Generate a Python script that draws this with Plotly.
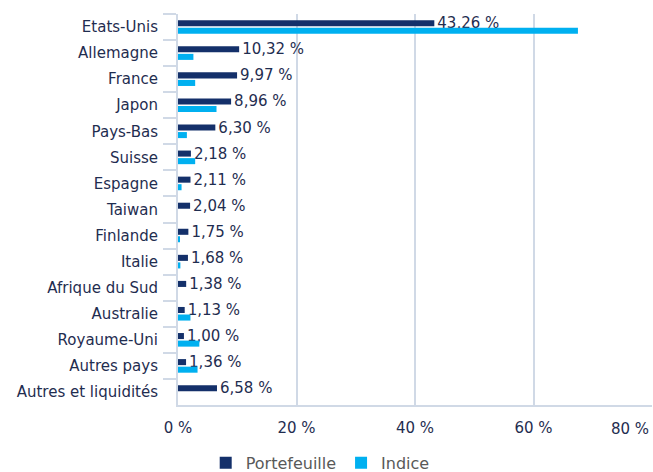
import plotly.graph_objects as go

categories = ["Etats-Unis", "Allemagne", "France", "Japon", "Pays-Bas", "Suisse",
              "Espagne", "Taiwan", "Finlande", "Italie", "Afrique du Sud", "Australie",
              "Royaume-Uni", "Autres pays", "Autres et liquidités"]
portefeuille = [43.26, 10.32, 9.97, 8.96, 6.30, 2.18, 2.11, 2.04, 1.75, 1.68, 1.38, 1.13, 1.00, 1.36, 6.58]
indice = [67.5, 2.6, 2.9, 6.5, 1.5, 2.9, 0.6, 0.0, 0.3, 0.4, 0.0, 2.1, 3.6, 3.3, 0.0]
x_ticks = [0, 20, 40, 60, 80]

NAVY = "#14306a"
CYAN = "#00b0f0"
TEXT = "#1f2d50"
GRID = "#d0d9e6"
FONT = "DejaVu Sans"

labels = [f"{v:.2f}".replace(".", ",") + " %" for v in portefeuille]
tick_text = [f"{t} %" for t in x_ticks]

fig = go.Figure()
fig.add_trace(go.Bar(
    y=categories, x=portefeuille, orientation="h", name="Portefeuille",
    marker=dict(color=NAVY, line=dict(width=0)),
    text=labels, textposition="outside", cliponaxis=False, constraintext="none",
    textfont=dict(family=FONT, size=15, color=TEXT),
))
fig.add_trace(go.Bar(
    y=categories, x=indice, orientation="h", name="Indice",
    marker=dict(color=CYAN, line=dict(width=0)),
))

# last tick label shifted inside the figure (as in the reference)
fig.add_annotation(
    x=x_ticks[-1], xref="x", xanchor="right", xshift=-1,
    y=0, yref="paper", yanchor="top", yshift=-13,
    text=tick_text[-1], showarrow=False,
    font=dict(family=FONT, size=15, color=TEXT),
)

fig.update_layout(
    width=653, height=472,
    margin=dict(l=178, r=1, t=14, b=67, autoexpand=False),
    paper_bgcolor="white", plot_bgcolor="white",
    barmode="group", bargap=0.42, bargroupgap=0.2,
    font=dict(family=FONT, color=TEXT),
    showlegend=True,
    legend=dict(orientation="h", x=0.30, xanchor="center",
                y=-0.148, yanchor="middle",
                font=dict(family=FONT, size=16, color="#595959"),
                traceorder="normal"),
)
fig.update_xaxes(
    range=[0, 80], tickvals=x_ticks, ticktext=tick_text[:-1] + [""],
    showgrid=True, gridcolor=GRID, gridwidth=1.5,
    showline=True, linecolor=GRID, linewidth=2, automargin=False,
    zeroline=False, ticks="", tickfont=dict(family=FONT, size=15, color=TEXT),
    ticklabelstandoff=8,
)
fig.update_yaxes(
    autorange="reversed", type="category", automargin=False,
    showline=True, linecolor=GRID, linewidth=2,
    ticks="outside", tickson="boundaries", ticklen=13, tickcolor=GRID, tickwidth=1.5,
    showgrid=False, ticklabelstandoff=15,
    tickfont=dict(family=FONT, size=15, color=TEXT),
)

fig.write_html("out.html", config={"displayModeBar": False},
               post_script="document.body.style.margin='0';document.body.style.overflow='hidden';")
